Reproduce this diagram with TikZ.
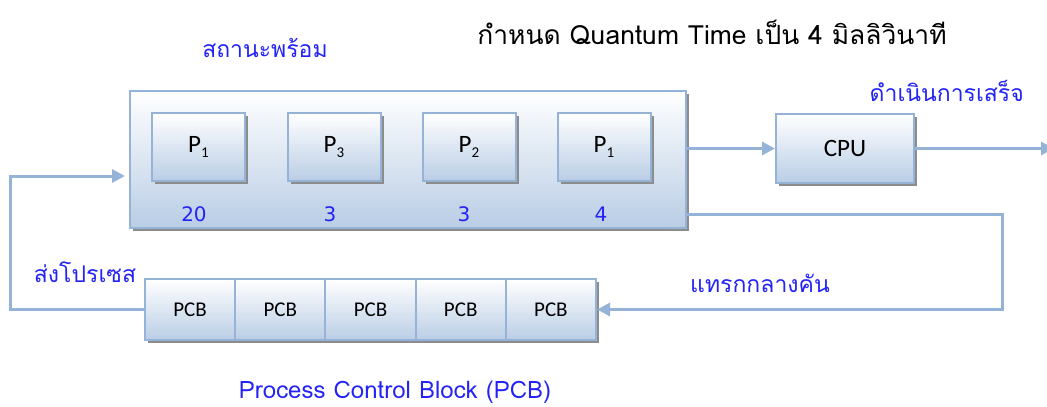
\documentclass[tikz,border=0pt]{standalone}
\usepackage{fontspec}
\newfontfamily\thaifont[Script=Thai]{Loma}
\newfontfamily\labfont{Carlito}
\newfontfamily\numfont{DejaVu Sans}
\usetikzlibrary{arrows.meta,shadows,calc}
\definecolor{boxborder}{HTML}{95B3D7}
\definecolor{boxfill}{HTML}{B9CDE5}
\definecolor{txtblue}{HTML}{2323F5}
\definecolor{shadowgray}{HTML}{8C8C8C}
\newcommand\psub[1]{P\raisebox{-0.45ex}{\fontsize{15}{15}\selectfont #1}}
\tikzset{
  shadowed/.style={drop shadow={shadow xshift=3pt, shadow yshift=-3pt, fill=shadowgray, opacity=1}},
  boxbase/.style={draw=boxborder, line width=2pt, top color=white, bottom color=boxfill, inner sep=0pt},
  readybox/.style={boxbase, shadowed, minimum width=556pt, minimum height=137pt},
  procbox/.style={boxbase, shadowed, minimum width=93pt, minimum height=68pt, font=\labfont\fontsize{25}{25}\selectfont},
  cpubox/.style={boxbase, shadowed, minimum width=138pt, minimum height=69pt, font=\labfont\fontsize{25}{25}\selectfont},
  pcbcell/.style={boxbase, shadowed, minimum width=90.2pt, minimum height=61pt, font=\labfont\fontsize{21}{21}\selectfont},
  conn/.style={draw=boxborder, line width=3pt},
  arr/.style={conn, -{Triangle[length=13pt,width=13pt]}},
  bluelabel/.style={text=txtblue, font=\thaifont\fontsize{23}{23}\selectfont, inner sep=0pt},
  numlabel/.style={text=txtblue, font=\numfont\fontsize{20}{20}\selectfont, inner sep=0pt},
}
\begin{document}
\begin{tikzpicture}[x=1pt,y=-1pt]
\useasboundingbox (0,0) rectangle (1047,407);
% ready queue
\node[readybox] (ready) at (408,159.5) {};
\node[procbox] (pa) at (198.5,147) {\psub{1}};
\node[procbox] (pb) at (334,147) {\psub{3}};
\node[procbox] (pc) at (469,147) {\psub{2}};
\node[procbox] (pd) at (604,147) {\psub{1}};
\node[numlabel] (na) at (194,214.5) {20};
\node[numlabel] (nb) at (330,214.5) {3};
\node[numlabel] (nc) at (464,214.5) {3};
\node[numlabel] (nd) at (601,214.5) {4};
% CPU
\node[cpubox] (cpu) at (845,148.5) {CPU};
% PCB row
\node[pcbcell] (c1) at (190.1,309.5) {PCB};
\node[pcbcell] (c2) at (280.3,309.5) {PCB};
\node[pcbcell] (c3) at (370.5,309.5) {PCB};
\node[pcbcell] (c4) at (460.7,309.5) {PCB};
\node[pcbcell] (c5) at (550.9,309.5) {PCB};
% connectors
\coordinate (out) at (1054,148.5);
\coordinate (r1) at (1002,214);
\coordinate (l1) at (10,176);
\draw[arr] (ready.east |- cpu) -- (cpu.west);
\draw[arr] (cpu.east) -- (out);
\draw[arr] (ready.east |- r1) -- (r1) |- (c5.east);
\draw[arr] (c1.west) -| (l1) -- ($(ready.west |- l1)+(-4,0)$);
% labels
\node[font=\thaifont\fontsize{26.4}{26.4}\selectfont, inner sep=0pt] (title) at (712,32) {กำหนด Quantum Time เป็น 4 มิลลิวินาที};
\node[bluelabel] (ready-l) at (265,48) {สถานะพร้อม};
\node[bluelabel, anchor=east] (done-l) at (1024,91) {ดำเนินการเสร็จ};
\node[bluelabel] (int-l) at (760,283) {แทรกกลางคัน};
\node[bluelabel] (send-l) at (85,272) {ส่งโปรเซส};
\node[bluelabel, font=\thaifont\fontsize{24}{24}\selectfont] (pcb-l) at (395,392) {Process Control Block (PCB)};
\end{tikzpicture}
\end{document}
